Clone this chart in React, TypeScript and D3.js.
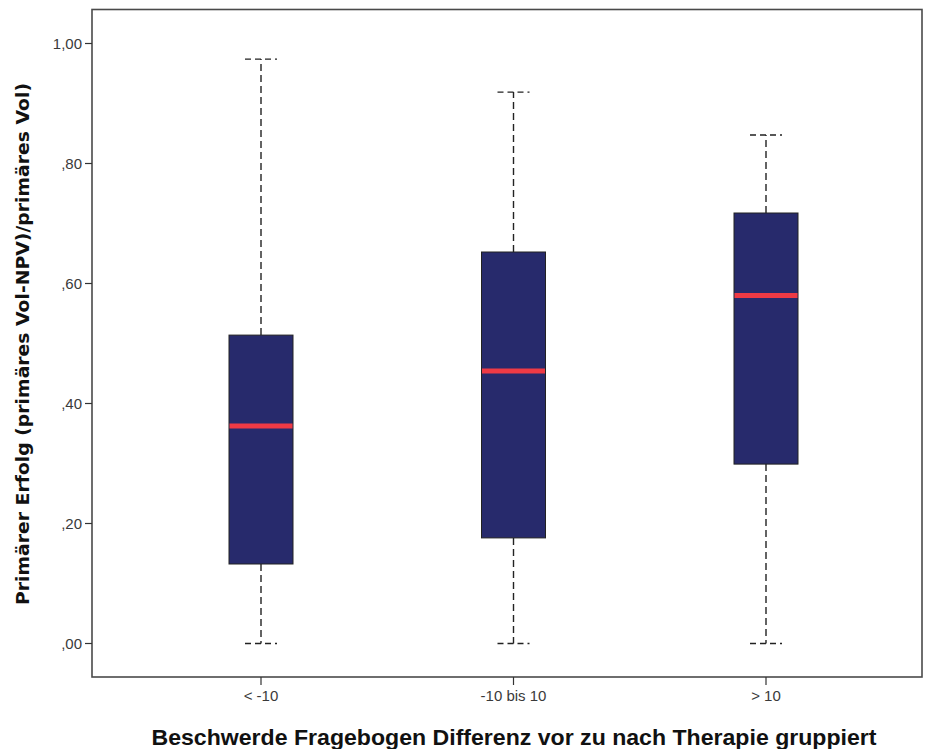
import React from "react";
import * as d3 from "d3";

const categories = ["< -10", "-10 bis 10", "> 10"];
const whiskerLow = [0.0, 0.0, 0.0];
const q1Values = [0.1325, 0.176, 0.299];
const medianValues = [0.3625, 0.454, 0.58];
const q3Values = [0.514, 0.6525, 0.7175];
const whiskerHigh = [0.974, 0.919, 0.8475];
const yTicks = [0, 0.2, 0.4, 0.6, 0.8, 1.0];
const yTickLabels = [",00", ",20", ",40", ",60", ",80", "1,00"];

const W = 925;
const H = 749;
const left = 92;
const top = 9.5;
const right = 922;
const bottom = 677;

export default function App() {
  const y = d3.scaleLinear().domain([0, 1]).range([643.5, 43.5]);
  const x = d3.scalePoint<string>().domain(categories).range([261, 766]);
  const boxW = 64;
  const capW = 32;
  return (
    <svg width={W} height={H} style={{ position: "absolute", left: 0, top: 0, background: "#fff" }}>
      <rect x={0} y={0} width={W} height={H} fill="#fff" />
      <rect x={left} y={top} width={right - left} height={bottom - top} fill="none" stroke="#4a4a4a" strokeWidth={1.6} />
      {yTicks.map((t, i) => (
        <g key={i}>
          <line x1={left - 7} x2={left} y1={y(t)} y2={y(t)} stroke="#333" strokeWidth={1.2} />
          <text x={left - 10} y={y(t)} dy="0.36em" textAnchor="end" fontFamily="Liberation Sans, Arial, sans-serif" fontSize={15} fill="#3a3a3a">
            {yTickLabels[i]}
          </text>
        </g>
      ))}
      {categories.map((c) => (
        <g key={c}>
          <line x1={x(c)} x2={x(c)} y1={bottom} y2={bottom + 8} stroke="#333" strokeWidth={1.2} />
          <text x={x(c)} y={bottom + 24} textAnchor="middle" fontFamily="Liberation Sans, Arial, sans-serif" fontSize={15} fill="#3a3a3a">
            {c}
          </text>
        </g>
      ))}
      {categories.map((c, i) => {
        const cx = x(c)!;
        return (
          <g key={"b" + c}>
            <line x1={cx} x2={cx} y1={y(q3Values[i])} y2={y(whiskerHigh[i])} stroke="#222" strokeWidth={1.4} strokeDasharray="7,4" />
            <line x1={cx} x2={cx} y1={y(q1Values[i])} y2={y(whiskerLow[i])} stroke="#222" strokeWidth={1.4} strokeDasharray="7,4" />
            <line x1={cx - capW / 2} x2={cx + capW / 2} y1={y(whiskerHigh[i])} y2={y(whiskerHigh[i])} stroke="#222" strokeWidth={1.4} strokeDasharray="6,4" />
            <line x1={cx - capW / 2} x2={cx + capW / 2} y1={y(whiskerLow[i])} y2={y(whiskerLow[i])} stroke="#222" strokeWidth={1.4} strokeDasharray="6,4" />
            <rect x={cx - boxW / 2} y={y(q3Values[i])} width={boxW} height={y(q1Values[i]) - y(q3Values[i])} fill="#272a6c" stroke="#222" strokeWidth={1} />
            <line x1={cx - boxW / 2 + 0.5} x2={cx + boxW / 2 - 0.5} y1={y(medianValues[i])} y2={y(medianValues[i])} stroke="#ee3a45" strokeWidth={5} />
          </g>
        );
      })}
      <text
        transform={`translate(29,344) rotate(-90)`}
        textAnchor="middle"
        fontFamily="DejaVu Sans, Verdana, sans-serif"
        fontWeight="bold"
        fontSize={18}
        fill="#111"
        textLength={522}
        lengthAdjust="spacingAndGlyphs"
      >
        Primärer Erfolg (primäres Vol-NPV)/primäres Vol)
      </text>
      <text
        x={514}
        y={745}
        textAnchor="middle"
        fontFamily="Liberation Sans, Arial, sans-serif"
        fontWeight="bold"
        fontSize={22}
        fill="#111"
        textLength={725}
        lengthAdjust="spacingAndGlyphs"
      >
        Beschwerde Fragebogen Differenz vor zu nach Therapie gruppiert
      </text>
    </svg>
  );
}
